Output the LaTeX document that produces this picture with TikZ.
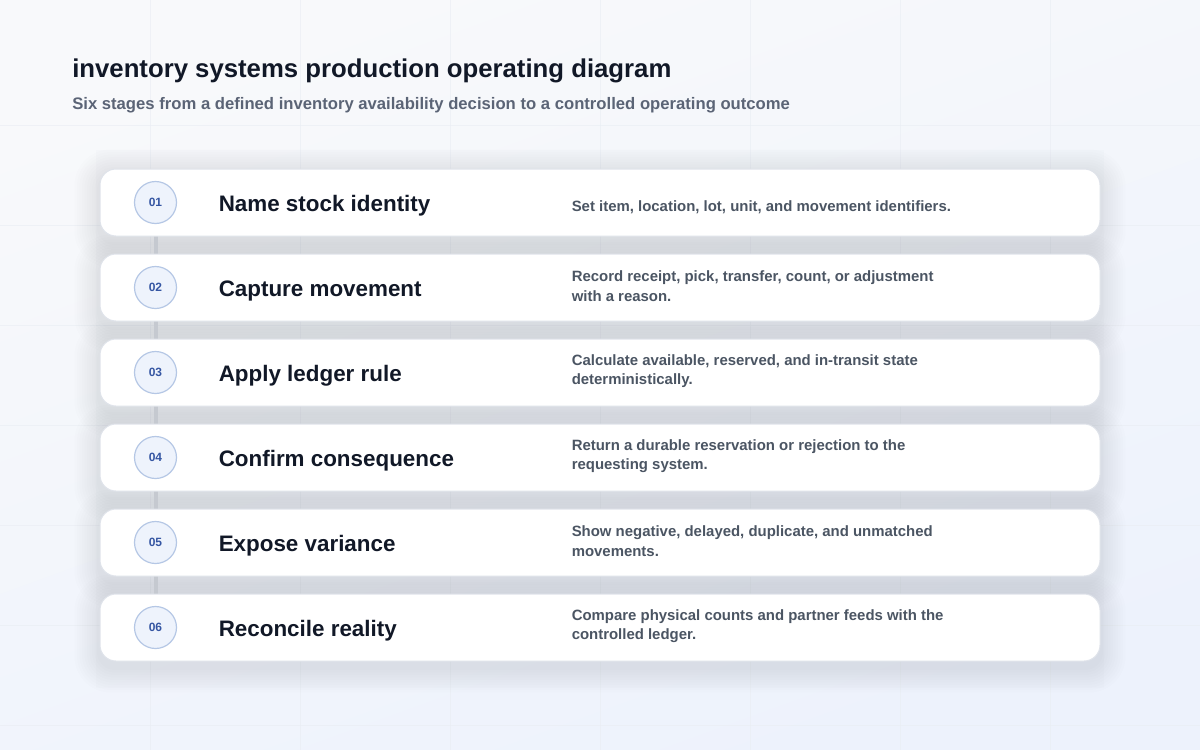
\documentclass[tikz,border=0pt]{standalone}
\usepackage{fontspec}
\setmainfont{Liberation Sans}
\usetikzlibrary{positioning}

\definecolor{ink}{HTML}{111827}
\definecolor{subink}{HTML}{5B6476}
\definecolor{bodyink}{HTML}{4B5563}
\definecolor{numink}{HTML}{3556A3}
\definecolor{numfill}{HTML}{EEF3FC}
\definecolor{numline}{HTML}{B5C7E5}
\definecolor{cardline}{HTML}{DFE3EA}
\definecolor{railgray}{HTML}{C5C9D0}
\definecolor{gridline}{HTML}{E9EDF3}
\definecolor{panelgray}{HTML}{E2E7EF}
\definecolor{shadowink}{HTML}{1E2A45}
\definecolor{pageA}{HTML}{F8F9FB}
\definecolor{pageD}{HTML}{EDF2FC}

\pgfdeclarelayer{back}
\pgfdeclarelayer{shade}
\pgfdeclarelayer{rail}
\pgfsetlayers{back,shade,rail,main}

\begin{document}
\begin{tikzpicture}[x=0.75pt,y=-0.75pt,node distance=63.75pt,on grid,
    card/.style={draw=cardline,line width=0.75pt,fill=white,rounded corners=12pt,
      minimum width=750pt,minimum height=50.25pt},
    num/.style={anchor=center,circle,draw=numline,fill=numfill,line width=0.9pt,minimum size=31.5pt,
      inner sep=0pt,text=numink,font=\bfseries\fontsize{9}{9}\selectfont},
    stage/.style={anchor=west,yshift=-2.5pt,text=ink,inner sep=0pt,font=\bfseries\fontsize{16.8}{18}\selectfont},
    note/.style={anchor=west,yshift=1pt,align=left,text=bodyink,inner sep=0pt,
      font=\bfseries\fontsize{11.2}{14.6}\selectfont},
    rail/.style={draw=railgray,line width=3pt}]
    \useasboundingbox (0,0) rectangle (1200,750);

    % page
    \begin{pgfonlayer}{back}
      \shade[top color=pageA,bottom color=pageD,shading angle=20] (0,0) rectangle (1200,750);
      \foreach \gx in {150,300,...,1050} \draw[gridline,opacity=0.6,line width=0.6pt] (\gx,0) -- (\gx,750);
      \foreach \gy in {125,225,...,725} \draw[gridline,opacity=0.6,line width=0.6pt] (0,\gy) -- (1200,\gy);
      \fill[panelgray,opacity=0.12] (96,150) rectangle (1104,688);
    \end{pgfonlayer}

    \node[anchor=base west,text=ink,inner sep=0pt,font=\bfseries\fontsize{19.3}{22}\selectfont]
      (title) at (72,77) {inventory systems production operating diagram};
    \node[anchor=base west,text=subink,inner sep=0pt,font=\bfseries\fontsize{12.5}{14}\selectfont]
      (subtitle) at (72,109) {Six stages from a defined inventory availability decision to a controlled operating outcome};

    % stages
    \node[card] (s1) at (600,202.5) {};
    \node[card] (s2) [below=of s1] {};
    \node[card] (s3) [below=of s2] {};
    \node[card] (s4) [below=of s3] {};
    \node[card] (s5) [below=of s4] {};
    \node[card] (s6) [below=of s5] {};

    \node (n1) [right=42pt of s1.west,num] {01};
    \node (n2) [right=42pt of s2.west,num] {02};
    \node (n3) [right=42pt of s3.west,num] {03};
    \node (n4) [right=42pt of s4.west,num] {04};
    \node (n5) [right=42pt of s5.west,num] {05};
    \node (n6) [right=42pt of s6.west,num] {06};

    \node (t1) [right=89.25pt of s1.west,stage] {Name stock identity};
    \node (t2) [right=89.25pt of s2.west,stage] {Capture movement};
    \node (t3) [right=89.25pt of s3.west,stage] {Apply ledger rule};
    \node (t4) [right=89.25pt of s4.west,stage] {Confirm consequence};
    \node (t5) [right=89.25pt of s5.west,stage] {Expose variance};
    \node (t6) [right=89.25pt of s6.west,stage] {Reconcile reality};

    \node (d1) [right=354pt of s1.west,note,yshift=-4.5pt] {Set item, location, lot, unit, and movement identifiers.};
    \node (d2) [right=354pt of s2.west,note] {Record receipt, pick, transfer, count, or adjustment\\with a reason.};
    \node (d3) [right=354pt of s3.west,note] {Calculate available, reserved, and in-transit state\\deterministically.};
    \node (d4) [right=354pt of s4.west,note] {Return a durable reservation or rejection to the\\requesting system.};
    \node (d5) [right=354pt of s5.west,note] {Show negative, delayed, duplicate, and unmatched\\movements.};
    \node (d6) [right=354pt of s6.west,note] {Compare physical counts and partner feeds with the\\controlled ledger.};

    % soft shadows under the cards
    \begin{pgfonlayer}{shade}
      \foreach \s in {s1,s2,s3,s4,s5,s6}
        \foreach \k in {1,...,10}
          \fill[shadowink,opacity=0.008,rounded corners=12pt+1.5pt*\k]
            ([shift={(-2.5*\k,6-2.5*\k)}]\s.north west) rectangle ([shift={(2.5*\k,6+2.5*\k)}]\s.south east);
    \end{pgfonlayer}

    \begin{pgfonlayer}{rail}
      \draw[rail] (n1) -- (n2);
      \draw[rail] (n2) -- (n3);
      \draw[rail] (n3) -- (n4);
      \draw[rail] (n4) -- (n5);
      \draw[rail] (n5) -- (n6);
    \end{pgfonlayer}
  \end{tikzpicture}
\end{document}
